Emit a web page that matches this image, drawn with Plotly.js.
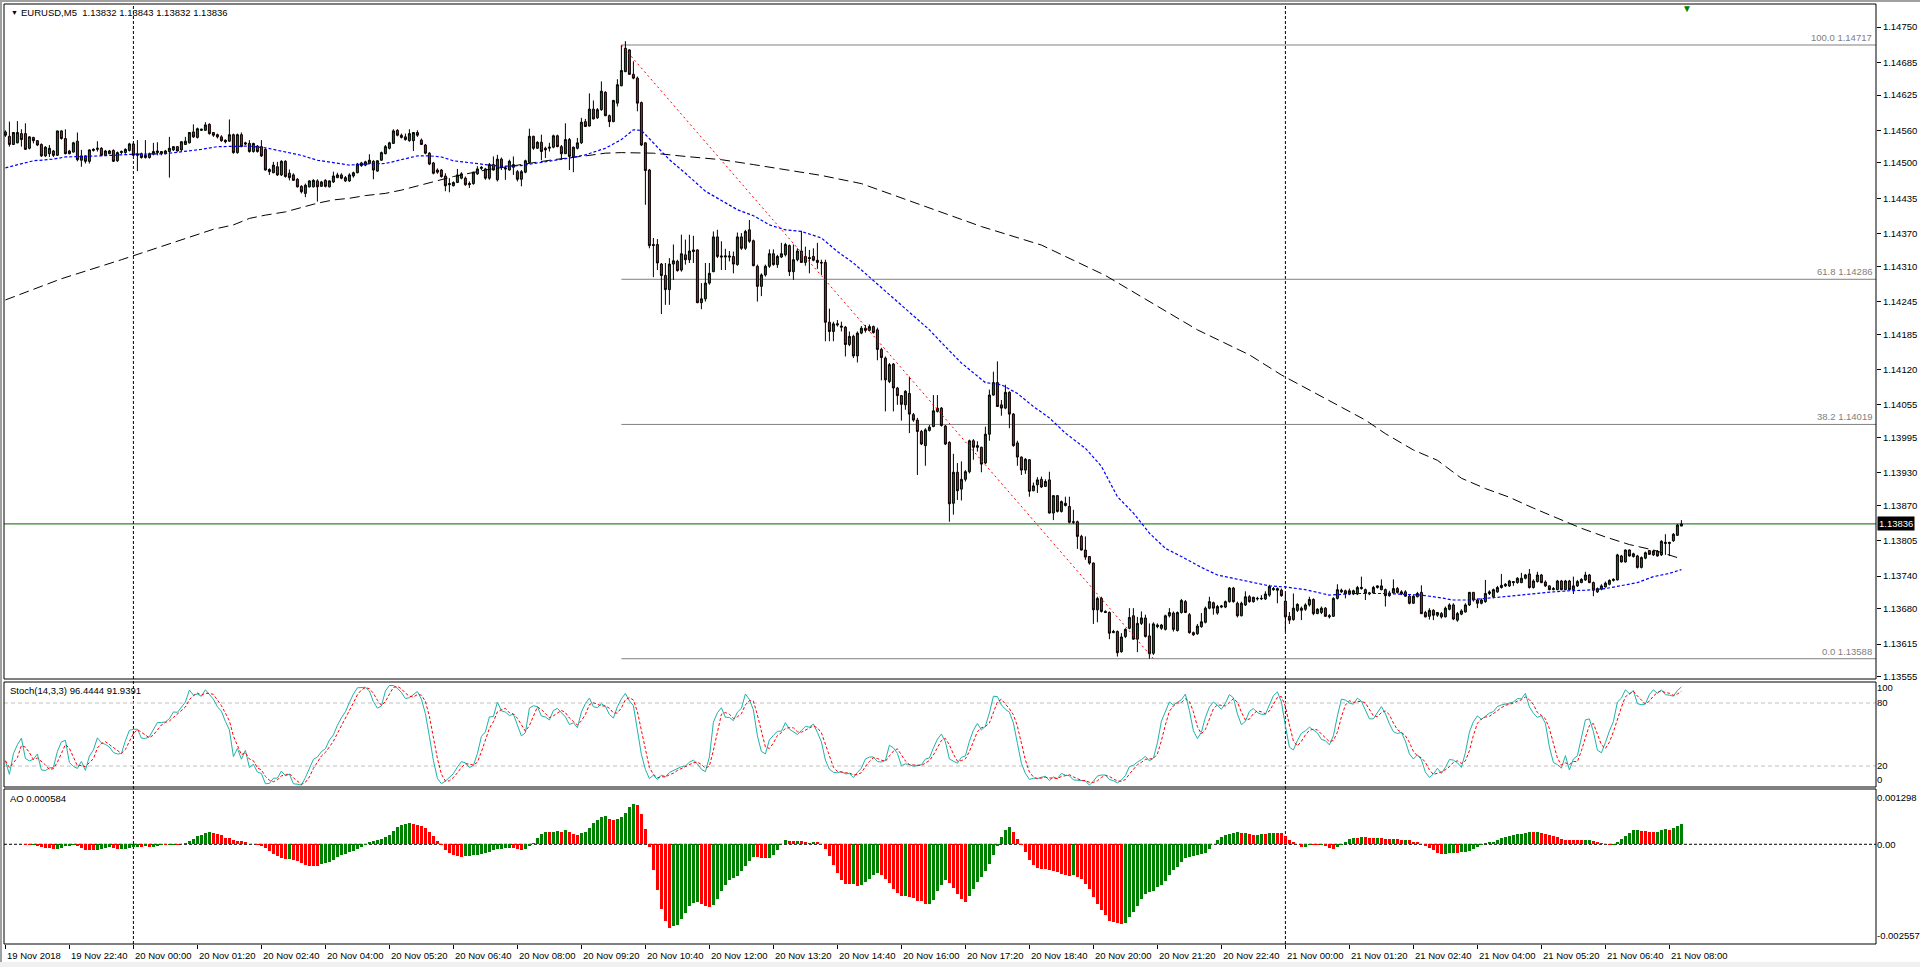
<!DOCTYPE html>
<html><head><meta charset="utf-8">
<script src="https://cdn.plot.ly/plotly-3.0.1.min.js"></script>
<style>html,body{margin:0;padding:0;background:#fff;overflow:hidden}#chart{width:1920px;height:967px}</style>
</head><body><div id="chart"></div>
<script>
// ---------------- DATA (EURUSD M5, 19 Nov 21:20 -> 21 Nov 08:15) ----------------
// prices are stored in points (0.00001) above priceBase
const priceBase = 1.13;
const openPts = [
1557,1549,1534,1537,1554,1554,1527,1547,1541,1534, 1513,1517,1522,1514,1559,1545,1522,1520,1540,1505,
1513,1503,1523,1525,1527,1514,1517,1523,1504,1519, 1519,1523,1535,1517,1517,1514,1510,1516,1519,1521,
1517,1521,1524,1530,1524,1534,1537,1557,1547,1560, 1560,1571,1556,1552,1548,1542,1540,1552,1519,1552,
1537,1536,1521,1531,1530,1525,1488,1482,1493,1478, 1503,1481,1478,1470,1457,1444,1456,1456,1467,1457,
1468,1456,1465,1473,1478,1467,1467,1476,1482,1500, 1496,1499,1503,1485,1505,1517,1527,1536,1560,1551,
1548,1541,1541,1556,1542,1533,1518,1500,1487,1487, 1476,1460,1458,1464,1472,1472,1460,1462,1480,1490,
1489,1472,1497,1469,1507,1491,1487,1492,1484,1470, 1483,1501,1549,1527,1538,1527,1527,1529,1550,1530,
1517,1543,1511,1527,1537,1576,1568,1599,1583,1598, 1630,1587,1576,1610,1642,1668,1708,1663,1656,1611,
1537,1487,1350,1350,1314,1293,1267,1314,1319,1303, 1331,1322,1340,1340,1243,1250,1279,1300,1364,1329,
1327,1329,1328,1313,1364,1343,1377,1357,1310,1273, 1294,1310,1333,1313,1327,1331,1348,1300,1322,1338,
1317,1326,1328,1321,1317,1317,1207,1190,1202,1200, 1198,1166,1181,1145,1187,1196,1192,1199,1193,1157,
1141,1098,1130,1086,1072,1055,1076,1037,1027,1006, 980,1008,1015,1043,1049,1016,986,874,931,900,
918,932,989,980,977,948,1001,1073,1096,1055, 1049,1078,1038,985,959,935,954,897,908,918,
905,917,856,888,859,874,868,840,840,813, 788,776,764,678,699,675,673,636,638,601,
629,644,667,624,653,663,630,598,647,644, 642,667,672,640,673,693,669,636,634,647,
655,681,691,672,683,683,693,718,690,667, 687,702,693,698,698,698,705,715,714,714,
694,666,660,677,681,679,687,697,671,673, 681,665,666,699,711,713,707,707,707,717,
715,707,709,719,715,715,704,709,717,707, 711,703,690,702,710,673,666,677,668,671,
665,679,687,659,670,674,687,710,696,690, 693,708,702,711,719,722,722,730,728,728,
736,744,719,730,742,729,722,715,715,731, 715,731,715,722,728,733,742,728,711,716,
720,725,732,733,777,766,788,776,777,756, 773,787,779,786,779,800,800,805,815,832];
const highPts = [
1560,1576,1557,1577,1562,1573,1549,1548,1542,1536, 1531,1533,1524,1559,1560,1562,1524,1539,1556,1524,
1514,1525,1527,1540,1529,1524,1524,1525,1521,1523, 1527,1537,1537,1542,1519,1542,1519,1537,1538,1522,
1524,1548,1531,1531,1540,1548,1557,1571,1565,1563, 1575,1573,1557,1554,1551,1543,1580,1554,1554,1556,
1539,1542,1537,1533,1542,1527,1490,1502,1502,1505, 1505,1488,1481,1472,1459,1462,1468,1470,1470,1467,
1470,1468,1484,1482,1481,1476,1481,1484,1500,1502, 1504,1516,1505,1505,1521,1533,1539,1562,1562,1554,
1554,1562,1557,1560,1545,1535,1520,1502,1490,1489, 1481,1472,1466,1489,1483,1475,1466,1484,1494,1494,
1491,1500,1512,1515,1510,1494,1506,1512,1487,1487, 1506,1563,1550,1540,1552,1530,1537,1552,1552,1533,
1573,1546,1530,1546,1583,1581,1628,1615,1601,1650, 1632,1589,1616,1654,1717,1724,1709,1687,1659,1613,
1538,1489,1362,1360,1316,1316,1325,1350,1322,1368, 1359,1368,1366,1341,1279,1316,1316,1374,1377,1356,
1342,1338,1337,1372,1371,1377,1395,1359,1313,1297, 1313,1341,1341,1331,1353,1353,1350,1350,1343,1375,
1346,1340,1343,1353,1322,1322,1232,1208,1211,1208, 1200,1190,1184,1190,1200,1202,1203,1201,1197,1160,
1144,1132,1132,1088,1073,1082,1107,1040,1031,1009, 1012,1018,1073,1073,1051,1018,988,965,948,951,
935,991,992,988,978,1015,1083,1116,1135,1064, 1092,1080,1040,989,960,957,955,912,922,923,
918,932,889,889,879,886,886,862,842,816, 813,777,765,702,702,677,675,641,640,635,
644,681,681,665,675,669,653,655,653,652, 669,681,675,675,698,696,672,638,652,672,
684,702,693,687,687,695,720,720,693,693, 712,705,702,702,705,712,724,720,719,717,
708,674,708,690,684,690,702,699,681,684, 683,670,701,725,717,715,717,715,722,739,
717,711,722,723,734,717,713,734,720,714, 714,705,705,711,723,676,681,679,674,674,
684,690,690,674,679,690,711,711,699,699, 733,714,717,722,744,727,733,731,738,746,
744,753,734,748,744,732,723,720,733,733, 733,733,739,733,736,748,744,730,719,725,
730,734,736,781,779,789,789,783,779,776, 785,788,788,788,806,817,803,819,836,843];
const lowPts = [
1548,1530,1533,1536,1530,1524,1525,1536,1531,1511, 1511,1511,1511,1513,1543,1516,1516,1519,1503,1493,
1499,1499,1521,1521,1513,1513,1516,1502,1502,1516, 1517,1521,1513,1485,1508,1508,1508,1514,1514,1514,
1516,1473,1522,1521,1522,1533,1536,1546,1545,1559, 1559,1552,1548,1545,1539,1536,1539,1517,1517,1529,
1533,1519,1519,1519,1511,1486,1478,1481,1476,1476, 1473,1468,1467,1455,1444,1437,1455,1455,1429,1456,
1455,1455,1463,1472,1470,1465,1465,1473,1481,1493, 1494,1498,1470,1484,1504,1516,1525,1535,1549,1545,
1541,1539,1522,1548,1533,1516,1496,1479,1480,1473, 1448,1446,1457,1463,1470,1458,1454,1460,1478,1487,
1469,1469,1486,1466,1487,1469,1486,1478,1466,1457, 1481,1500,1524,1526,1505,1509,1521,1527,1529,1506,
1517,1487,1483,1525,1535,1566,1567,1580,1581,1596, 1586,1566,1575,1604,1641,1667,1662,1654,1595,1531,
1423,1343,1290,1303,1222,1239,1239,1285,1300,1300, 1313,1316,1316,1242,1231,1245,1276,1299,1325,1303,
1303,1319,1297,1311,1340,1340,1353,1310,1245,1255, 1291,1307,1311,1307,1325,1328,1292,1285,1319,1316,
1311,1297,1319,1305,1294,1172,1172,1172,1199,1190, 1144,1163,1141,1133,1185,1188,1190,1186,1137,1100,
1043,1095,1043,1055,1026,1046,1003,1024,926,981, 943,1006,1014,1041,1015,981,840,853,880,879,
914,929,954,969,931,946,989,1072,1051,1035, 1047,1012,978,943,926,928,886,896,893,902,
904,855,843,857,857,868,837,836,790,787, 770,761,652,655,673,672,624,635,592,599,
626,642,623,600,650,627,588,595,644,641, 640,664,638,638,671,672,634,630,632,645,
653,679,669,669,681,681,691,691,664,666, 685,691,691,695,696,696,702,713,690,702,
638,652,658,674,659,676,684,668,670,670, 665,662,665,697,709,699,705,705,705,715,
696,705,708,717,714,684,702,708,708,705, 702,688,689,701,670,664,660,659,665,662,
664,677,659,656,668,673,685,693,681,688, 691,705,699,709,717,720,720,722,726,727,
734,717,717,728,727,720,714,714,714,714, 714,714,707,720,727,731,727,703,709,714,
719,723,730,732,765,765,776,774,754,754, 771,779,777,776,777,779,777,803,814,832];
const closePts = [
1551,1534,1556,1556,1543,1525,1548,1541,1533,1513, 1529,1527,1514,1559,1545,1517,1517,1537,1506,1513,
1503,1524,1525,1527,1514,1522,1522,1503,1519,1521, 1525,1535,1514,1514,1510,1510,1517,1521,1522,1517,
1522,1527,1530,1522,1539,1540,1556,1548,1563,1562, 1570,1554,1551,1548,1541,1539,1552,1519,1552,1530,
1535,1521,1536,1521,1513,1487,1484,1496,1478,1503, 1475,1473,1468,1456,1447,1459,1467,1468,1456,1465,
1457,1467,1476,1478,1472,1473,1478,1482,1498,1495, 1502,1505,1487,1504,1519,1530,1537,1559,1551,1547,
1543,1554,1556,1551,1534,1518,1498,1481,1483,1475, 1458,1462,1464,1478,1480,1460,1462,1483,1489,1492,
1472,1497,1487,1507,1492,1489,1503,1497,1470,1484, 1504,1549,1527,1538,1521,1524,1529,1550,1530,1517,
1543,1512,1529,1537,1575,1567,1599,1581,1598,1632, 1587,1576,1615,1644,1670,1711,1663,1656,1610,1533,
1486,1348,1348,1316,1293,1267,1314,1320,1302,1333, 1322,1338,1337,1243,1250,1279,1297,1364,1328,1327,
1329,1327,1314,1364,1343,1374,1356,1311,1273,1294, 1310,1333,1313,1328,1333,1350,1300,1322,1338,1317,
1328,1324,1321,1317,1316,1207,1190,1204,1204,1198, 1166,1181,1145,1187,1196,1192,1199,1188,1157,1142,
1101,1129,1086,1072,1056,1080,1038,1027,1006,983, 1009,1014,1044,1049,1017,983,873,931,897,918,
932,989,977,977,946,1001,1073,1096,1052,1049, 1078,1038,980,959,935,955,896,906,917,904,
914,856,888,859,877,870,839,839,813,788, 775,764,678,699,675,673,635,638,599,628,
642,664,624,653,663,629,597,652,650,650, 667,673,642,673,695,673,636,632,648,656,
681,693,681,684,685,693,718,693,667,690, 702,693,701,699,699,707,721,717,717,704,
665,659,681,688,677,687,697,671,679,681, 666,667,699,715,714,707,713,713,719,719,
708,709,719,722,722,704,709,717,710,711, 703,690,703,708,671,665,677,668,673,665,
681,687,661,671,676,687,710,696,690,696, 708,711,715,719,723,725,731,728,736,736,
742,719,731,742,728,722,715,717,731,715, 731,715,722,730,734,742,728,714,717,722,
727,732,734,779,766,788,777,781,756,774, 783,780,786,777,804,802,802,817,834,836];

// moving averages read at sample bars (points above priceBase)
const slowMaBars = [0,14,29,45,52,57,61,65,70,74,78,82,86,90,95,99,103,106,112,120,129,137,145,150,154,158,162,170,179,187,195,204,214,244,259,275,298,303,311,319,340,345,352,358,364,370,376,382,388,394,400,406,412,418];
const slowMaPts  = [1248,1287,1322,1360,1378,1386,1398,1404,1410,1418,1426,1432,1435,1440,1444,1450,1458,1464,1475,1487,1497,1506,1513,1518,1519,1519,1518,1512,1506,1497,1487,1477,1462,1383,1349,1293,1193,1175,1147,1110,1027,1002,972,953,920,901,885,865,846,828,812,798,788,774];
const fastMaBars = [0,7,12,15,24,32,40,45,49,53,57,61,65,70,74,78,82,86,90,95,99,103,106,109,112,116,120,124,129,133,137,141,145,150,154,157,159,162,166,170,175,179,183,187,191,195,199,204,208,212,231,235,239,245,249,253,257,261,265,270,274,278,282,286,290,294,299,303,307,311,316,320,325,331,337,345,354,358,362,366,370,375,379,383,387,391,395,400,404,408,412,416,419];
const fastMaPts  = [1491,1504,1507,1511,1513,1516,1517,1521,1525,1530,1531,1531,1528,1521,1514,1505,1500,1496,1498,1499,1506,1513,1513,1511,1504,1500,1497,1494,1495,1500,1504,1509,1515,1527,1543,1561,1560,1537,1506,1481,1448,1431,1414,1403,1386,1377,1374,1362,1337,1316,1193,1162,1132,1096,1092,1076,1052,1031,1003,975,942,886,856,819,791,776,756,742,736,730,722,720,715,705,708,708,705,701,696,696,699,702,705,708,711,713,714,717,722,728,739,745,752];

// Fibonacci retracement
const fibHighBar = 154, fibLowBar = 287;
const fibHigh = 1.14717, fibLow = 1.13588;
const fibLevels = ["100.0","61.8","38.2","0.0"];
const fibPrices = [1.14717, 1.14286, 1.14019, 1.13588];
const lastPrice = 1.13836;
const daySeparatorBars = [32, 320];

// axis labels
const timeLabels = ["19 Nov 2018","19 Nov 22:40","20 Nov 00:00","20 Nov 01:20","20 Nov 02:40","20 Nov 04:00","20 Nov 05:20","20 Nov 06:40","20 Nov 08:00","20 Nov 09:20","20 Nov 10:40","20 Nov 12:00","20 Nov 13:20","20 Nov 14:40","20 Nov 16:00","20 Nov 17:20","20 Nov 18:40","20 Nov 20:00","20 Nov 21:20","20 Nov 22:40","21 Nov 00:00","21 Nov 01:20","21 Nov 02:40","21 Nov 04:00","21 Nov 05:20","21 Nov 06:40","21 Nov 08:00"];
const barsPerLabel = 16;
const priceTicks = [1.14750,1.14685,1.14625,1.14560,1.14500,1.14435,1.14370,1.14310,1.14245,1.14185,1.14120,1.14055,1.13995,1.13930,1.13870,1.13805,1.13740,1.13680,1.13615,1.13555];
const stochTickText = ["100","80","20","0"];
const aoTicks = [0.001298, 0, -0.002557];
const aoTickText = ["0.001298","0.00","-0.002557"];

// ---------------- BUILD ----------------
const toPrice = v => +(priceBase + v / 1e5).toFixed(5);
const O = openPts.map(toPrice), H = highPts.map(toPrice), L = lowPts.map(toPrice), C = closePts.map(toPrice);
const N = C.length;
const bars = Array.from({length: N}, (_, i) => i);

// Stochastic (14,3,3) computed from the candles
const kP = 14, slow = 3, dP = 3;
const num = [], den = [];
for (let i = 0; i < N; i++) {
  let hh = -Infinity, ll = Infinity;
  for (let j = Math.max(0, i - kP + 1); j <= i; j++) { hh = Math.max(hh, H[j]); ll = Math.min(ll, L[j]); }
  num.push(C[i] - ll); den.push(hh - ll);
}
const K = [], D = [];
for (let i = 0; i < N; i++) {
  let sn = 0, sd = 0;
  for (let j = Math.max(0, i - slow + 1); j <= i; j++) { sn += num[j]; sd += den[j]; }
  K.push(sd > 0 ? sn / sd * 100 : 50);
}
for (let i = 0; i < N; i++) {
  let s = 0, c = 0;
  for (let j = Math.max(0, i - dP + 1); j <= i; j++) { s += K[j]; c++; }
  D.push(s / c);
}
// Awesome Oscillator computed from the candles
const med = H.map((h, i) => (h + L[i]) / 2);
const sma = (a, i, p) => { let s = 0, c = 0; for (let j = Math.max(0, i - p + 1); j <= i; j++) { s += a[j]; c++; } return s / c; };
const AO = med.map((_, i) => sma(med, i, 5) - sma(med, i, 34));
const aoCol = []; let up = true;
for (let i = 0; i < N; i++) { if (i > 0) { if (AO[i] > AO[i-1]) up = true; else if (AO[i] < AO[i-1]) up = false; } aoCol.push(up ? '#008000' : '#ff0000'); }

// layout geometry (pixels of the 1920x967 page)
const PL = 4, PR = 1876, PT = 4, PB = 944;
const xr = [(PL - 5.4) / 4, (PR - 5.4) / 4];
const py = p => (PB - p) / (PB - PT);
const px = p => (p - PL) / (PR - PL);
const FONT = 'Liberation Sans, Arial, sans-serif';
const FS = 9.5;

const traces = [
  {type: 'candlestick', x: bars, open: O, high: H, low: L, close: C, xaxis: 'x', yaxis: 'y',
   increasing: {line: {color: '#000000', width: 1}, fillcolor: '#008000'},
   decreasing: {line: {color: '#000000', width: 1}, fillcolor: '#ff0000'},
   whiskerwidth: 0, hoverinfo: 'skip'},
  {type: 'scatter', mode: 'lines', x: slowMaBars, y: slowMaPts.map(toPrice), xaxis: 'x', yaxis: 'y',
   line: {color: '#000000', width: 1, dash: '10px,5px'}, hoverinfo: 'skip'},
  {type: 'scatter', mode: 'lines', x: fastMaBars, y: fastMaPts.map(toPrice), xaxis: 'x', yaxis: 'y',
   line: {color: '#0000ff', width: 1.2, dash: '3px,2px'}, hoverinfo: 'skip'},
  {type: 'scatter', mode: 'lines', x: [fibHighBar, fibLowBar], y: [fibHigh, fibLow], xaxis: 'x', yaxis: 'y',
   line: {color: '#ff0000', width: 1, dash: '2px,3px'}, hoverinfo: 'skip'},
  {type: 'scatter', mode: 'lines', x: bars, y: K, xaxis: 'x', yaxis: 'y2',
   line: {color: '#20b2aa', width: 1}, hoverinfo: 'skip'},
  {type: 'scatter', mode: 'lines', x: bars, y: D, xaxis: 'x', yaxis: 'y2',
   line: {color: '#ff0000', width: 1, dash: '3px,2px'}, hoverinfo: 'skip'},
  {type: 'bar', x: bars, y: AO, xaxis: 'x', yaxis: 'y3', width: 0.75,
   marker: {color: aoCol, line: {width: 0}}, hoverinfo: 'skip'}
];

const dMain = [py(679), 1], dSto = [py(787), py(682)], dAO = [0, py(789)];
const shapes = [];
// gray window frame strips
shapes.push({type: 'rect', xref: 'paper', yref: 'paper', x0: px(0), x1: px(1920), y0: py(0), y1: py(2), fillcolor: '#a0a0a0', line: {width: 0}});
shapes.push({type: 'rect', xref: 'paper', yref: 'paper', x0: px(0), x1: px(2), y0: py(967), y1: py(0), fillcolor: '#a0a0a0', line: {width: 0}});
shapes.push({type: 'rect', xref: 'paper', yref: 'paper', x0: px(0), x1: px(1920), y0: py(967), y1: py(962), fillcolor: '#f0f0f0', line: {width: 0}});
// day separators
daySeparatorBars.forEach(b => shapes.push({type: 'line', xref: 'x', yref: 'paper', x0: b, x1: b, y0: 0, y1: 1, layer: 'below', line: {color: '#000000', width: 1, dash: '3px,2px'}}));
// fib levels
fibPrices.forEach(p => shapes.push({type: 'line', xref: 'x', yref: 'y', x0: fibHighBar, x1: xr[1], y0: p, y1: p, layer: 'below', line: {color: '#808080', width: 1}}));
// last price line
shapes.push({type: 'line', xref: 'x', yref: 'y', x0: xr[0], x1: xr[1], y0: lastPrice, y1: lastPrice, layer: 'below', line: {color: '#006400', width: 1}});
// stoch levels
[80, 20].forEach(v => shapes.push({type: 'line', xref: 'x', yref: 'y2', x0: xr[0], x1: xr[1], y0: v, y1: v, layer: 'below', line: {color: '#c0c0c0', width: 1, dash: '4px,3px'}}));
// AO zero line
shapes.push({type: 'line', xref: 'x', yref: 'y3', x0: xr[0], x1: xr[1], y0: 0, y1: 0, layer: 'below', line: {color: '#000000', width: 1, dash: '3px,2px'}});
// panel borders
[dMain, dSto, dAO].forEach(d => shapes.push({type: 'rect', xref: 'paper', yref: 'paper', x0: 0, x1: 1, y0: d[0], y1: d[1], line: {color: '#000000', width: 1}, fillcolor: 'rgba(0,0,0,0)'}));

const ann = [];
const tf = {family: FONT, size: FS, color: '#000000'};
ann.push({xref: 'paper', yref: 'paper', x: px(9), y: py(12), xanchor: 'left', yanchor: 'middle', text: '▼', showarrow: false, font: {family: FONT, size: 7, color: '#000000'}});
ann.push({xref: 'paper', yref: 'paper', x: px(19), y: py(12.5), xanchor: 'left', yanchor: 'middle', text: 'EURUSD,M5 \u00a01.13832 1.13843 1.13832 1.13836', showarrow: false, font: tf});
ann.push({xref: 'paper', yref: 'paper', x: px(8), y: py(690.5), xanchor: 'left', yanchor: 'middle', text: 'Stoch(14,3,3) 96.4444 91.9391', showarrow: false, font: tf});
ann.push({xref: 'paper', yref: 'paper', x: px(8), y: py(798), xanchor: 'left', yanchor: 'middle', text: 'AO 0.000584', showarrow: false, font: tf});
fibLevels.forEach((lv, i) => ann.push({xref: 'paper', yref: 'y', x: 1, y: fibPrices[i], xanchor: 'right', yanchor: 'bottom', xshift: -2, yshift: 0, text: lv + ' ' + fibPrices[i].toFixed(5), showarrow: false, font: {family: FONT, size: FS, color: '#808080'}}));
ann.push({xref: 'paper', yref: 'y', x: 1, y: lastPrice, xanchor: 'left', yanchor: 'middle', xshift: 1, text: lastPrice.toFixed(5), showarrow: false, bgcolor: '#000000', borderpad: 1, font: {family: FONT, size: FS, color: '#ffffff'}});
timeLabels.forEach((t, i) => ann.push({xref: 'x', yref: 'paper', x: i * barsPerLabel, y: py(955), xanchor: 'left', yanchor: 'middle', xshift: 0, text: t, showarrow: false, font: tf}));
ann.push({xref: 'x', yref: 'paper', x: N + 0.5, y: py(1), xanchor: 'center', yanchor: 'top', text: '▼', showarrow: false, font: {family: FONT, size: 10, color: '#008000'}});

const layout = {
  width: 1920, height: 967, margin: {l: PL, r: 1920 - PR, t: PT, b: 967 - PB, pad: 0},
  paper_bgcolor: '#ffffff', plot_bgcolor: '#ffffff', showlegend: false, hovermode: false, bargap: 0,
  font: {family: FONT, size: FS, color: '#000000'},
  xaxis: {domain: [0, 1], range: xr, anchor: 'y3', showgrid: false, zeroline: false, showline: false,
          tickmode: 'array', tickvals: timeLabels.map((_, i) => i * barsPerLabel), ticks: 'outside', ticklen: 4, tickcolor: '#000000',
          showticklabels: false, rangeslider: {visible: false}, fixedrange: true},
  yaxis: {domain: dMain, range: [1.135507, 1.147924], side: 'right', anchor: 'x', showgrid: false, zeroline: false, showline: false,
          tickmode: 'array', tickvals: priceTicks, ticktext: priceTicks.map(v => v.toFixed(5)), ticks: 'outside', ticklen: 4, tickcolor: '#000000',
          tickfont: tf, fixedrange: true},
  yaxis2: {domain: dSto, range: [0, 100], side: 'right', anchor: 'x', showgrid: false, zeroline: false, showline: false,
          tickmode: 'array', tickvals: [94.3, 80, 20, 7], ticktext: stochTickText, ticks: '', tickfont: tf, fixedrange: true},
  yaxis3: {domain: dAO, range: [-0.002795, 0.00155], side: 'right', anchor: 'x', showgrid: false, zeroline: false, showline: false,
          tickmode: 'array', tickvals: aoTicks, ticktext: aoTickText, ticks: '', tickfont: tf, fixedrange: true},
  shapes: shapes, annotations: ann
};
Plotly.newPlot('chart', traces, layout, {displayModeBar: false, staticPlot: true});
</script></body></html>
